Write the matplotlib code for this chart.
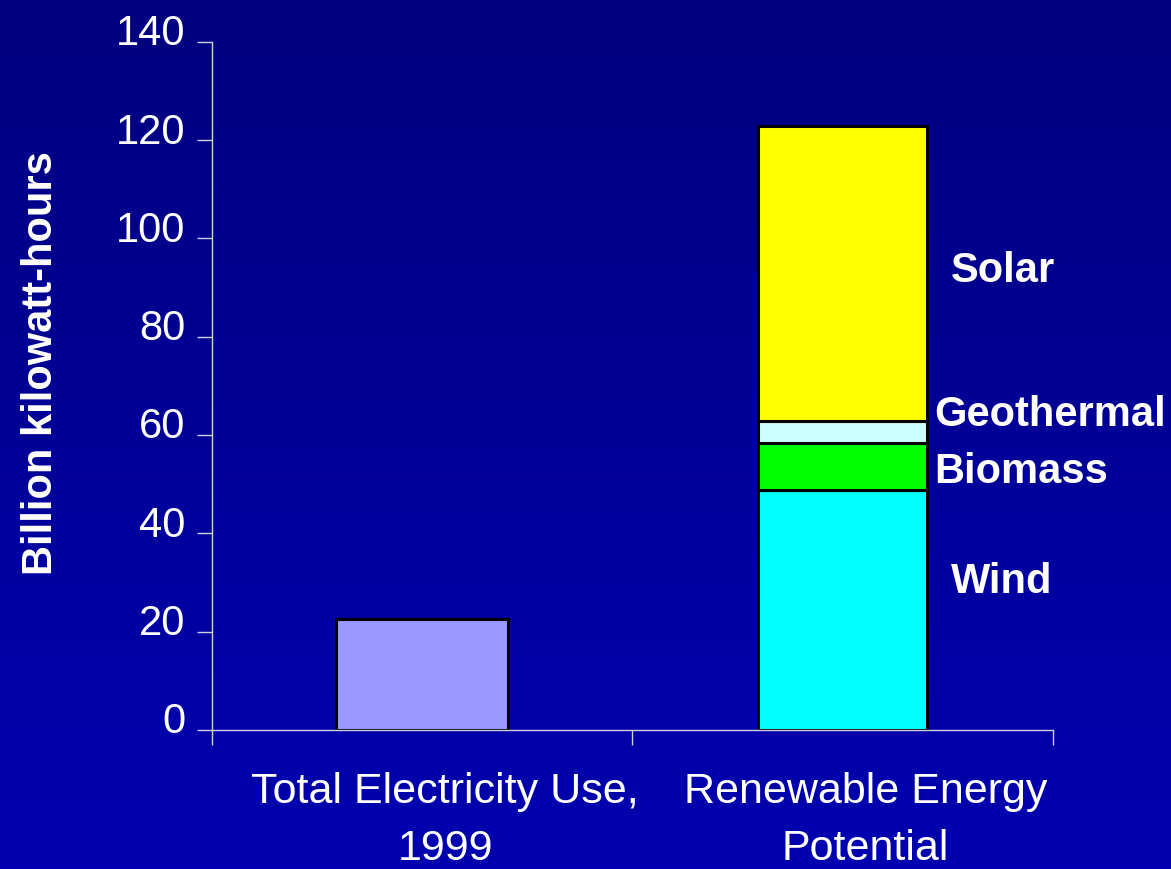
import matplotlib.pyplot as plt
import matplotlib.transforms as mtransforms
import numpy as np

plt.rcParams['font.family'] = ['Liberation Sans', 'DejaVu Sans']

categories = ['Total Electricity Use,\n1999', 'Renewable Energy\nPotential']
total_use = 22.6
sources = ['Wind', 'Biomass', 'Geothermal', 'Solar']
potential = [48.8, 9.6, 4.5, 60.0]
source_colors = ['#00FFFF', '#00FF00', '#CCFFFF', '#FFFF00']
yticks = [0, 20, 40, 60, 80, 100, 120, 140]

fig = plt.figure(figsize=(11.71, 8.69), dpi=100)

# gradient background, dark navy at top to brighter blue at bottom
bg = fig.add_axes([0, 0, 1, 1], zorder=-10)
grad = np.linspace(0, 1, 256).reshape(-1, 1)
top = np.array([0x00, 0x00, 0x7F]) / 255
bottom = np.array([0x00, 0x00, 0xB0]) / 255
img = top + (bottom - top) * grad[:, :, None]
bg.imshow(img, aspect='auto', extent=[0, 1, 0, 1])
bg.axis('off')

ax = fig.add_axes([0.181, 0.160, 0.718, 0.792])
ax.patch.set_alpha(0)

ax.bar(0, total_use, width=0.41, color='#9999FF', edgecolor='black', linewidth=2.2)
bottom_val = 0
for name, v, c in zip(sources, potential, source_colors):
    ax.bar(1, v, width=0.40, bottom=bottom_val, color=c, edgecolor='black', linewidth=2.2)
    bottom_val += v

label_pos = {'Solar': (1.257, 93.4), 'Geothermal': (1.217, 64.0),
             'Biomass': (1.217, 52.5), 'Wind': (1.257, 30.0)}
for name in sources:
    x, y = label_pos[name]
    ax.text(x, y, name, color='white', fontsize=30, fontweight='bold',
            ha='left', va='center')

ax.set_xlim(-0.5, 1.5)
ax.set_ylim(0, 140)
ax.set_yticks(yticks)
ax.set_xticks([-0.5, 0.5, 1.5])
ax.set_xticklabels([])
ax.set_xticks([0, 1], minor=True)
ax.set_xticklabels(categories, minor=True, linespacing=1.55)
ax.tick_params(axis='x', which='minor', length=0, pad=30, labelsize=31, labelcolor='white')
ax.tick_params(axis='x', which='major', length=11, width=1, color='#D0D0E0', direction='out')
ax.tick_params(axis='y', length=11, width=1, color='#D0D0E0', pad=8, labelsize=30, labelcolor='white')

offset = mtransforms.ScaledTranslation(23 / 100, 0, fig.dpi_scale_trans)
for lbl in ax.get_xticklabels(minor=True):
    lbl.set_transform(lbl.get_transform() + offset)

# y tick labels sit a little above their tick marks
yoff = mtransforms.ScaledTranslation(0, 12 / 100, fig.dpi_scale_trans)
for lbl in ax.get_yticklabels():
    lbl.set_transform(lbl.get_transform() + yoff)

for s in ['top', 'right']:
    ax.spines[s].set_visible(False)
for s in ['left', 'bottom']:
    ax.spines[s].set_color('#D0D0E0')
    ax.spines[s].set_linewidth(1)

ax.set_ylabel('Billion kilowatt-hours', color='white', fontsize=30, fontweight='bold')
ax.yaxis.set_label_coords(-0.18, 0.533)

fig.savefig('out.png', dpi=100)
